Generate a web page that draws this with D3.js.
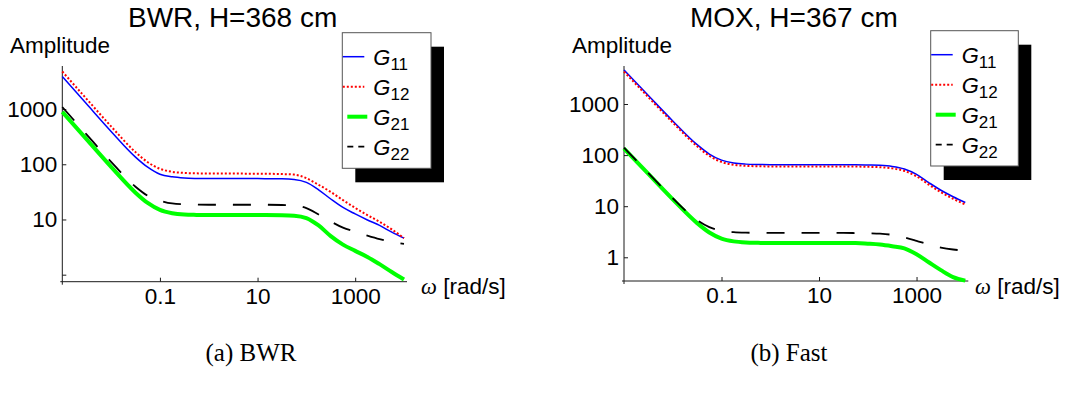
<!DOCTYPE html>
<html>
<head>
<meta charset="utf-8">
<script src="https://cdn.jsdelivr.net/npm/d3@7/dist/d3.min.js"></script>
<style>
  html, body { margin: 0; padding: 0; background: #fff; }
  svg { display: block; font-family: "Liberation Sans", Arial, sans-serif; }
</style>
</head>
<body>
<svg id="chart" width="1078" height="394"></svg>
<script>
// ---------- data ----------
const omega = [0.001, 0.00316, 0.01, 0.0316, 0.0562, 0.1, 0.178, 0.316, 0.562, 1, 3.16, 10, 31.6, 56.2, 100, 178, 316, 562, 1000, 1780, 3160, 5620, 10000];

const seriesNames = ["G11", "G12", "G21", "G22"];

// Panel (a) BWR, H=368 cm
const bwrG11 = [3900, 1235, 394, 135, 88.5, 66, 59.2, 56.4, 55.4, 55, 55, 55, 54.5, 53, 47, 34.5, 23.5, 16.5, 12.6, 9.8, 7.8, 5.9, 4.6];
const bwrG12 = [4800, 1519, 485, 166, 109, 83, 73, 69.7, 68.5, 68, 67.8, 67.5, 66.5, 65, 56, 42.5, 31.5, 22.4, 16.2, 12, 9.1, 6.6, 4.6];
const bwrG21 = [890, 282, 89.8, 30.6, 19.9, 14.9, 13.0, 12.3, 12.1, 12, 12, 12, 11.9, 11.7, 10.6, 7.8, 5.0, 3.5, 2.7, 2.1, 1.55, 1.12, 0.82];
const bwrG22 = [1090, 345, 110.6, 39.1, 26.8, 22, 19.5, 18.8, 18.6, 18.5, 18.5, 18.5, 18.3, 18, 16, 12.3, 9.2, 7.1, 6.0, 5.1, 4.4, 3.9, 3.6];

// Panel (b) Fast, MOX, H=367 cm
const moxG11 = [4630, 1465, 467, 160, 105, 79.8, 70, 66.6, 65.5, 65, 65, 65, 65, 64.8, 64, 63, 60, 53.5, 42, 29, 20.5, 15.3, 11.8];
const moxG12 = [4300, 1360, 434, 148.7, 96.6, 73.4, 64.7, 61.5, 60.5, 60, 60, 60, 60, 59.8, 59, 58, 55, 49, 38.5, 26.5, 18.8, 14, 10.8];
const moxG21 = [135, 42.7, 13.6, 4.67, 3.06, 2.33, 2.05, 1.95, 1.92, 1.9, 1.9, 1.9, 1.9, 1.9, 1.85, 1.78, 1.65, 1.5, 1.15, 0.8, 0.56, 0.41, 0.35];
const moxG22 = [140, 44.3, 14.3, 5.35, 3.9, 3.31, 3.1, 3.03, 3.01, 3.0, 3.0, 3.0, 3.0, 2.98, 2.95, 2.9, 2.75, 2.45, 2.1, 1.78, 1.55, 1.42, 1.35];

const xTickValues = [0.1, 10, 1000];
const xTickLabels = ["0.1", "10", "1000"];
const yTickValues = [1, 10, 100, 1000];
const bwrYLabels = ["", "10", "100", "1000"];
const moxYLabels = ["1", "10", "100", "1000"];

const titles = ["BWR, H=368 cm", "MOX, H=367 cm"];
const captions = ["(a) BWR", "(b) Fast"];
const yAxisTitle = "Amplitude";

// ---------- styles ----------
const styles = {
  G11: { color: "#0000ff", width: 1.5, dash: null },
  G12: { color: "#ff0000", width: 2, dash: "2,2" },
  G21: { color: "#00ff00", width: 4, dash: null },
  G22: { color: "#000000", width: 1.8, dash: "18,17" }
};
const legendDash = { G11: null, G12: "2,2", G21: null, G22: "6,5" };

const svg = d3.select("#chart");

function minorValues(decades, ks) {
  const out = [];
  decades.forEach(m => ks.forEach(k => out.push(k * Math.pow(10, m))));
  return out;
}

function drawPanel(cfg) {
  const g = svg.append("g");
  const x = d3.scaleLog().domain([1e-3, 1e4]).range(cfg.xRange);
  const y = d3.scaleLog().domain(cfg.yDomain).range(cfg.yRange);
  const axisColor = "#1a1a1a";

  // x axis
  const xAxisG = g.append("g").attr("transform", `translate(0,${cfg.yRange[0]})`);
  xAxisG.call(d3.axisBottom(x).tickValues(minorValues([-2, 0, 2], [1,2,3,4,5,6,7,8,9])).tickSize(-2).tickSizeOuter(0).tickFormat(""));
  xAxisG.call(d3.axisBottom(x).tickValues(xTickValues).tickSize(-4).tickSizeOuter(0).tickPadding(6)
    .tickFormat((d, i) => xTickLabels[i]));
  xAxisG.selectAll(".domain").remove();
  xAxisG.selectAll("line").attr("stroke", axisColor);
  xAxisG.selectAll("text").attr("font-size", 22.5).attr("fill", "#000")
    .attr("font-family", "Liberation Sans, Arial, sans-serif");
  g.append("line")
    .attr("x1", cfg.xRange[0] - 2).attr("x2", cfg.xRange[1] + 3)
    .attr("y1", cfg.yRange[0]).attr("y2", cfg.yRange[0])
    .attr("stroke", axisColor).attr("stroke-width", 1);

  // y axis
  const yAxisG = g.append("g").attr("transform", `translate(${cfg.xRange[0]},0)`);
  const yMinor = minorValues([-1, 0, 1, 2, 3], [2,3,4,5,6,7,8,9]).filter(v => v > cfg.yDomain[0] && v < cfg.yDomain[1]);
  yAxisG.call(d3.axisLeft(y).tickValues(yMinor).tickSize(-2).tickSizeOuter(0).tickFormat(""));
  yAxisG.call(d3.axisLeft(y).tickValues(yTickValues).tickSize(-4).tickSizeOuter(0).tickPadding(5)
    .tickFormat((d, i) => cfg.yLabels[i]));
  yAxisG.selectAll(".domain").remove();
  yAxisG.selectAll("line").attr("stroke", axisColor);
  yAxisG.selectAll("text").attr("font-size", 22.5).attr("fill", "#000")
    .attr("font-family", "Liberation Sans, Arial, sans-serif");
  g.append("line")
    .attr("x1", cfg.xRange[0]).attr("x2", cfg.xRange[0])
    .attr("y1", cfg.yRange[1]).attr("y2", cfg.yRange[0] + 3)
    .attr("stroke", axisColor).attr("stroke-width", 1);

  // curves
  const line = d3.line()
    .x((d, i) => x(omega[i]))
    .y(d => y(d))
    .curve(d3.curveMonotoneX);
  seriesNames.forEach((name, si) => {
    const st = styles[name];
    g.append("path")
      .datum(cfg.series[si])
      .attr("d", line)
      .attr("fill", "none")
      .attr("stroke", st.color)
      .attr("stroke-width", st.width)
      .attr("stroke-dasharray", st.dash)
      .attr("stroke-linejoin", "round");
  });

  // titles
  g.append("text").attr("x", cfg.titleX).attr("y", 27.3)
    .attr("font-size", 28).attr("fill", "#000").text(cfg.title);
  g.append("text").attr("x", cfg.ampX).attr("y", 53)
    .attr("font-size", 22.5).attr("fill", "#000").text(yAxisTitle);

  // omega label
  const wl = g.append("text").attr("x", cfg.omegaX).attr("y", 293.5)
    .attr("font-size", 22.5).attr("fill", "#000");
  wl.append("tspan").attr("font-family", "Liberation Serif, Times New Roman, serif")
    .attr("font-style", "italic").text("ω");
  wl.append("tspan").text(" [rad/s]");

  // legend
  const L = cfg.legend;
  g.append("rect").attr("x", L.x + 13).attr("y", L.y + 14)
    .attr("width", L.w).attr("height", L.h).attr("fill", "#000");
  g.append("rect").attr("x", L.x).attr("y", L.y)
    .attr("width", L.w).attr("height", L.h).attr("fill", "#fff")
    .attr("stroke", "#555").attr("stroke-width", 1);
  const rows = g.selectAll(".leg").data(seriesNames).enter().append("g")
    .attr("transform", (d, i) => `translate(${L.x},${L.y + 24 + i * 30})`);
  rows.append("line")
    .attr("x1", d => d === "G11" || d === "G12" ? 0.5 : 5)
    .attr("x2", d => d === "G11" || d === "G12" ? 22 : 25)
    .attr("y1", 0).attr("y2", 0)
    .attr("stroke", d => styles[d].color)
    .attr("stroke-width", d => styles[d].width)
    .attr("stroke-dasharray", d => legendDash[d]);
  const lt = rows.append("text").attr("x", 31).attr("y", 8)
    .attr("font-size", 22).attr("fill", "#000");
  lt.append("tspan").attr("font-style", "italic").text("G");
  lt.append("tspan").attr("font-size", 17).attr("dy", 5).text(d => d.slice(1));

  // caption
  svg.append("text").attr("x", cfg.captionX).attr("y", 361)
    .attr("text-anchor", "middle")
    .attr("font-family", "Liberation Serif, Times New Roman, serif")
    .attr("font-size", 25).attr("fill", "#000").text(cfg.caption);
}

drawPanel({
  xRange: [62.3, 404],
  yDomain: [0.746, 6030], yRange: [281.7, 66],
  yLabels: bwrYLabels,
  series: [bwrG11, bwrG12, bwrG21, bwrG22],
  title: titles[0], titleX: 128,
  ampX: 10, omegaX: 421,
  legend: { x: 342.3, y: 32.7, w: 88.7, h: 135.6 },
  caption: captions[0], captionX: 251
});

drawPanel({
  xRange: [624, 965.3],
  yDomain: [0.3436, 5546], yRange: [281, 66],
  yLabels: moxYLabels,
  series: [moxG11, moxG12, moxG21, moxG22],
  title: titles[1], titleX: 690,
  ampX: 572, omegaX: 975,
  legend: { x: 930.7, y: 30.7, w: 87.6, h: 135.3 },
  caption: captions[1], captionX: 789
});
</script>
</body>
</html>
